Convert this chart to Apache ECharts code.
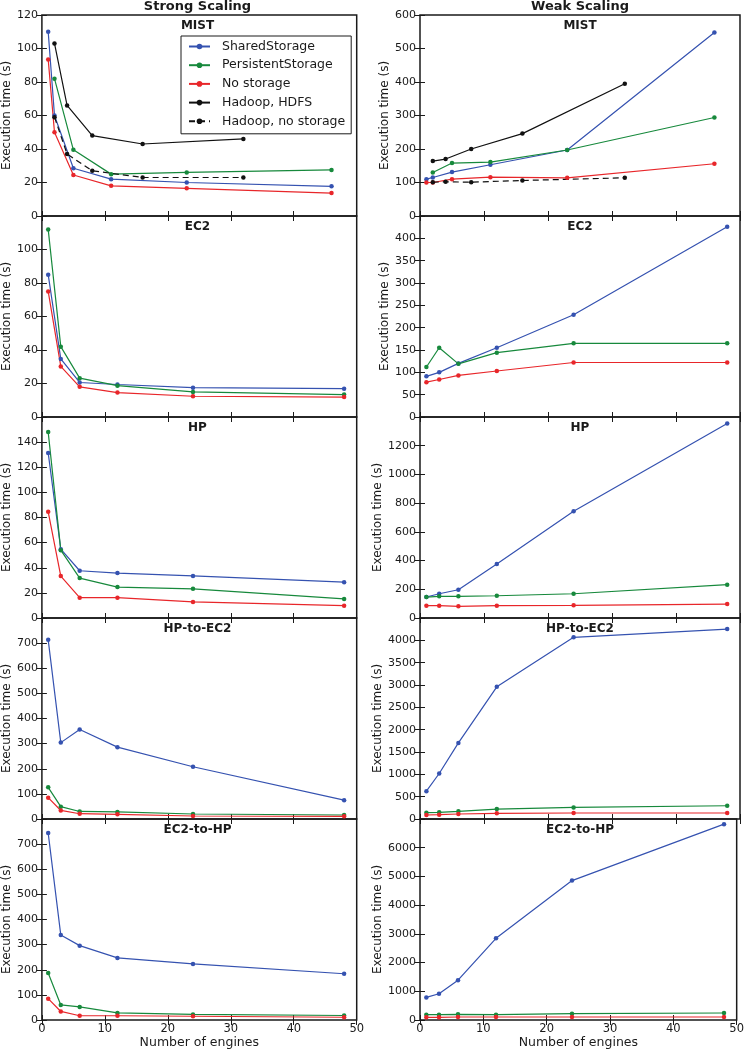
<!DOCTYPE html>
<html><head><meta charset="utf-8">
<script src="https://cdn.jsdelivr.net/npm/echarts@6/dist/echarts.min.js"></script>
<style>html,body{margin:0;padding:0;background:#fff}#c{width:747px;height:1050px}</style>
</head><body><div id="c"></div>
<script>
// ---------- DATA ----------
const seriesNames = ['SharedStorage', 'PersistentStorage', 'No storage', 'Hadoop, HDFS', 'Hadoop, no storage'];
const columnTitles = ['Strong Scaling', 'Weak Scaling'];
const platformNames = ['MIST', 'EC2', 'HP', 'HP-to-EC2', 'EC2-to-HP'];
const xAxisTitle = 'Number of engines';
const yAxisTitle = 'Execution time (s)';

const engines = [1, 3, 6, 12, 24, 48];
const mistEngines = [1, 2, 5, 11, 23, 46];
const mistPersistentEngines = [2, 5, 11, 23, 46];
const hadoopEngines = [2, 4, 8, 16, 32];

// y-axis scales (max, step) per platform row
const strongYMax = [120, 120, 160, 800, 800];
const strongYStep = [20, 20, 20, 100, 100];
const weakYMax = [600, 450, 1400, 4500, 7000];
const weakYStep = [100, 50, 200, 500, 1000];

// Strong scaling
const mistStrongShared = [110, 60, 28.5, 22, 20, 17.7];
const mistStrongPersistent = [82, 39.5, 25, 26, 27.5];
const mistStrongNoStorage = [93.5, 50, 24.5, 18, 16.5, 13.7];
const mistStrongHadoopHDFS = [103, 66, 48, 43, 46];
const mistStrongHadoopNoStorage = [59, 37, 27, 23, 23];

const ec2StrongShared = [85, 34.7, 20.6, 19.4, 17.5, 16.9];
const ec2StrongPersistent = [112, 42, 23.2, 18.7, 15, 13.4];
const ec2StrongNoStorage = [75, 30.2, 18, 14.6, 12.4, 11.9];

const hpStrongShared = [131.4, 54.8, 37.6, 35.8, 33.5, 28.5];
const hpStrongPersistent = [148, 54, 31.8, 24.6, 23.2, 15.2];
const hpStrongNoStorage = [84.5, 33.4, 16.2, 16.2, 12.8, 9.8];

const hpToEc2StrongShared = [713, 304, 356, 286, 208, 75];
const hpToEc2StrongPersistent = [126, 49, 30, 28, 20, 16];
const hpToEc2StrongNoStorage = [85, 34, 21, 18.5, 12, 10.5];

const ec2ToHpStrongShared = [744, 338, 296, 247, 223, 184];
const ec2ToHpStrongPersistent = [187, 60, 52, 28, 22, 18];
const ec2ToHpStrongNoStorage = [85, 34, 17, 17, 15, 11];

// Weak scaling
const mistWeakShared = [110, 115, 131, 153, 197, 548];
const mistWeakPersistent = [130, 158, 161, 197, 294];
const mistWeakNoStorage = [100, 100, 110, 116, 114, 156];
const mistWeakHadoopHDFS = [164, 170, 200, 246, 395];
const mistWeakHadoopNoStorage = [101, 102, 101, 106, 114];

const ec2WeakShared = [91, 100, 120, 155, 229, 426];
const ec2WeakPersistent = [112, 155, 119, 144, 165, 165];
const ec2WeakNoStorage = [78, 84, 93, 103, 122, 122];

const hpWeakShared = [146, 169, 197, 376, 743, 1355];
const hpWeakPersistent = [146, 151, 151, 155, 169, 232];
const hpWeakNoStorage = [86, 86, 81, 86, 88, 97];

const hpToEc2WeakShared = [624, 1019, 1703, 2959, 4067, 4253];
const hpToEc2WeakPersistent = [141, 149, 171, 223, 260, 297];
const hpToEc2WeakNoStorage = [89, 97, 112, 126, 134, 134];

const ec2ToHpWeakShared = [786, 913, 1387, 2844, 4855, 6821];
const ec2ToHpWeakPersistent = [185, 185, 197, 185, 220, 243];
const ec2ToHpWeakNoStorage = [92, 92, 104, 104, 104, 104];

// ---------- PANELS ----------
const panelLines = [
  [ // strong
    [[mistEngines, mistStrongShared, 0], [mistPersistentEngines, mistStrongPersistent, 1], [mistEngines, mistStrongNoStorage, 2], [hadoopEngines, mistStrongHadoopHDFS, 3], [hadoopEngines, mistStrongHadoopNoStorage, 4]],
    [[engines, ec2StrongShared, 0], [engines, ec2StrongPersistent, 1], [engines, ec2StrongNoStorage, 2]],
    [[engines, hpStrongShared, 0], [engines, hpStrongPersistent, 1], [engines, hpStrongNoStorage, 2]],
    [[engines, hpToEc2StrongShared, 0], [engines, hpToEc2StrongPersistent, 1], [engines, hpToEc2StrongNoStorage, 2]],
    [[engines, ec2ToHpStrongShared, 0], [engines, ec2ToHpStrongPersistent, 1], [engines, ec2ToHpStrongNoStorage, 2]]
  ],
  [ // weak
    [[mistEngines, mistWeakShared, 0], [mistPersistentEngines, mistWeakPersistent, 1], [mistEngines, mistWeakNoStorage, 2], [hadoopEngines, mistWeakHadoopHDFS, 3], [hadoopEngines, mistWeakHadoopNoStorage, 4]],
    [[engines, ec2WeakShared, 0], [engines, ec2WeakPersistent, 1], [engines, ec2WeakNoStorage, 2]],
    [[engines, hpWeakShared, 0], [engines, hpWeakPersistent, 1], [engines, hpWeakNoStorage, 2]],
    [[engines, hpToEc2WeakShared, 0], [engines, hpToEc2WeakPersistent, 1], [engines, hpToEc2WeakNoStorage, 2]],
    [[engines, ec2ToHpWeakShared, 0], [engines, ec2ToHpWeakPersistent, 1], [engines, ec2ToHpWeakNoStorage, 2]]
  ]
];
const yMax = [strongYMax, weakYMax];
const yStep = [strongYStep, weakYStep];

// ---------- STYLE / LAYOUT ----------
const FONT = 'DejaVu Sans';
const INK = '#1a1a1a';
const colors = ['#3552b0', '#17893c', '#e8262a', '#111111', '#111111'];
const colLeft = [38.3, 420];
const colWidth = [318.4, 320];
const rowTop0 = 15, rowH = 201;
const plain = v => String(v);

const grids = [], xAxes = [], yAxes = [], series = [], titles = [];

columnTitles.forEach((t, c) => {
  titles.push({
    text: t, left: colLeft[c] + colWidth[c] / 2, top: 0, textAlign: 'center', padding: 0,
    textStyle: { fontFamily: FONT, fontSize: 13, fontWeight: 'bold', color: INK }
  });
});

for (let c = 0; c < 2; c++) {
  for (let r = 0; r < 5; r++) {
    const gi = grids.length;
    const top = rowTop0 + r * rowH;
    grids.push({
      left: colLeft[c], top: top, width: colWidth[c], height: rowH,
      show: true, borderColor: INK, borderWidth: 1.5, backgroundColor: 'transparent'
    });
    titles.push({
      text: platformNames[r], left: colLeft[c] + colWidth[c] / 2, top: top + 5, textAlign: 'center', padding: 0,
      textStyle: { fontFamily: FONT, fontSize: 12, fontWeight: 'bold', color: INK }
    });
    const bottomRow = r === 4;
    const tick = { show: true, inside: true, length: 5, lineStyle: { color: INK, width: 1 } };
    const xi = xAxes.length;
    xAxes.push({
      gridIndex: gi, type: 'value', min: 0, max: 50, interval: 10, position: 'bottom',
      axisLine: { show: false }, splitLine: { show: false }, axisTick: tick,
      axisLabel: { show: bottomRow, margin: 3, color: INK, fontSize: 11.5, fontFamily: FONT, formatter: plain },
      name: bottomRow ? xAxisTitle : '', nameLocation: 'middle', nameGap: 15,
      nameTextStyle: { fontFamily: FONT, fontSize: 12.5, color: INK }
    });
    xAxes.push({
      gridIndex: gi, type: 'value', min: 0, max: 50, interval: 10, position: 'top',
      axisLine: { show: false }, splitLine: { show: false }, axisTick: tick, axisLabel: { show: false }
    });
    const yi = yAxes.length;
    yAxes.push({
      gridIndex: gi, type: 'value', min: 0, max: yMax[c][r], interval: yStep[c][r], position: 'left',
      axisLine: { show: false }, splitLine: { show: false }, axisTick: tick,
      axisLabel: { show: true, margin: 4, color: INK, fontSize: 11, fontFamily: FONT, formatter: plain, showMaxLabel: r === 0, showMinLabel: true },
      name: yAxisTitle, nameLocation: 'middle', nameGap: 25,
      nameTextStyle: { fontFamily: FONT, fontSize: 12, color: INK }
    });
    yAxes.push({
      gridIndex: gi, type: 'value', min: 0, max: yMax[c][r], interval: yStep[c][r], position: 'right',
      axisLine: { show: false }, splitLine: { show: false }, axisTick: tick, axisLabel: { show: false }
    });
    panelLines[c][r].forEach(([xs, ys, k]) => {
      series.push({
        name: seriesNames[k], type: 'line', xAxisIndex: xi, yAxisIndex: yi,
        data: xs.map((x, i) => [x, ys[i]]),
        symbol: 'circle', symbolSize: 4.5, showSymbol: true,
        lineStyle: { color: colors[k], width: 1.2, type: k === 4 ? [6, 4] : 'solid' },
        itemStyle: { color: colors[k] },
        emphasis: { disabled: true }, animation: false
      });
    });
  }
}

const chart = echarts.init(document.getElementById('c'), null, { renderer: 'canvas' });
chart.setOption({
  backgroundColor: '#ffffff',
  animation: false,
  title: titles,
  grid: grids,
  xAxis: xAxes,
  yAxis: yAxes,
  legend: {
    data: seriesNames, orient: 'vertical', left: 181, top: 36,
    backgroundColor: '#ffffff', borderColor: INK, borderWidth: 1, borderRadius: 0,
    padding: [4, 6, 6, 7], itemWidth: 21, itemHeight: 7, itemGap: 5.7,
    textStyle: { fontFamily: FONT, fontSize: 12.5, color: INK, padding: [0, 0, 0, 7] }
  },
  series: series
});
</script></body></html>
